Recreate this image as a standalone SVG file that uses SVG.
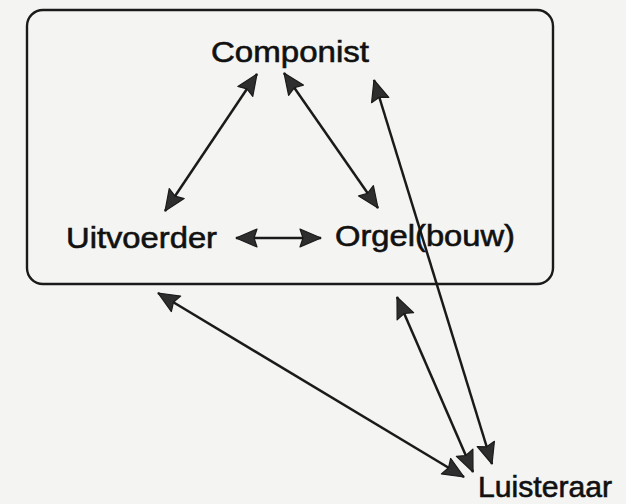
<svg xmlns="http://www.w3.org/2000/svg" width="626" height="504" viewBox="0 0 626 504">
<defs>
<style>
.lbl{font-family:"Liberation Sans",Arial,sans-serif;font-size:29px;fill:#111;stroke:#111;stroke-width:0.6}
.con{stroke:#1a1a1a;stroke-width:2.5;fill:none;marker-start:url(#ah);marker-end:url(#ah)}
</style>
<marker id="ah" markerUnits="userSpaceOnUse" markerWidth="24" markerHeight="20" refX="22" refY="10" orient="auto-start-reverse" viewBox="0 0 24 20">
<path d="M1,1 L22,10 L1,19 L4,10 Z" fill="#2e2e2e" stroke="#1a1a1a" stroke-width="1.2" stroke-linejoin="round"/>
</marker>
</defs>
<rect width="626" height="504" fill="#f4f4f2"/>
<rect x="27" y="10" width="526" height="274" rx="16" ry="16" fill="none" stroke="#1a1a1a" stroke-width="2.4"/>
<g id="connectors">
<line class="con" x1="257" y1="74" x2="165" y2="211"/>
<line class="con" x1="284" y1="73" x2="378" y2="208"/>
<line class="con" x1="236" y1="238" x2="321" y2="238"/>
<line class="con" x1="374" y1="80" x2="492" y2="464"/>
<line class="con" x1="397" y1="297" x2="473" y2="472"/>
<line class="con" x1="158" y1="293" x2="464" y2="477"/>
</g>
<g id="componist"><text class="lbl" x="211" y="62" textLength="158" lengthAdjust="spacingAndGlyphs">Componist</text></g>
<g id="uitvoerder"><text class="lbl" x="66" y="248" textLength="151" lengthAdjust="spacingAndGlyphs">Uitvoerder</text></g>
<g id="orgel"><text class="lbl" x="335" y="246" textLength="180" lengthAdjust="spacingAndGlyphs">Orgel(bouw)</text></g>
<g id="luisteraar"><text class="lbl" x="478" y="497" textLength="134" lengthAdjust="spacingAndGlyphs">Luisteraar</text></g>
</svg>
